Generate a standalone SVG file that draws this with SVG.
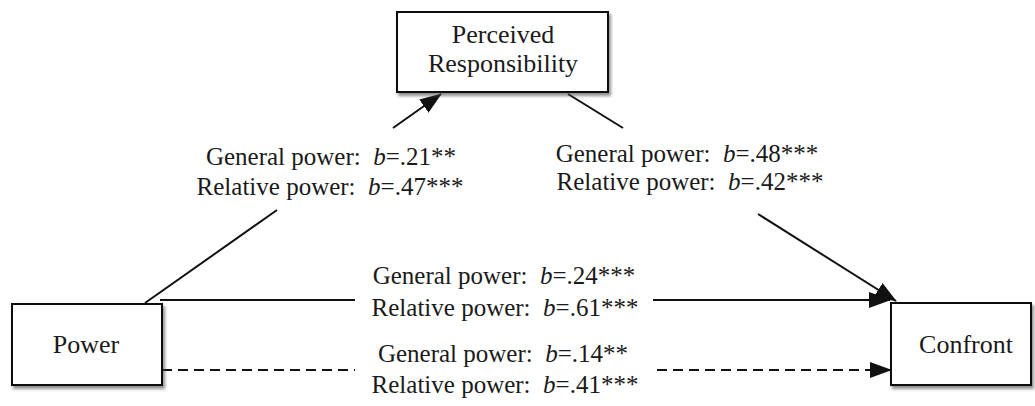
<svg xmlns="http://www.w3.org/2000/svg" width="1035" height="406" viewBox="0 0 1035 406">
  <style>
    .box { fill: #ffffff; stroke: #111111; stroke-width: 2; filter: url(#shadow); }
    .t { font-family: "Liberation Serif", "Times New Roman", serif; font-size: 26px; fill: #1a1a1a; text-anchor: middle; }
    .lbl { font-family: "Liberation Serif", "Times New Roman", serif; font-size: 25px; fill: #1a1a1a; text-anchor: middle; }
    .b { font-style: italic; }
    .edge { fill: none; stroke: #111111; stroke-width: 2; }
    .dash { stroke-dasharray: 10 6; }
  </style>
  <defs>
    <filter id="shadow" x="-10%" y="-10%" width="130%" height="140%">
      <feDropShadow dx="2" dy="3" stdDeviation="1.6" flood-color="#444444" flood-opacity="0.6"/>
    </filter>
    <marker id="arrow" markerUnits="userSpaceOnUse" markerWidth="22" markerHeight="16" viewBox="0 0 22 16" refX="21" refY="8" orient="auto">
      <path d="M0,0 L22,8 L0,16 Z" fill="#111111"/>
    </marker>
  </defs>

  <g id="connectors">
    <path id="power-to-responsibility" class="edge" d="M145,303 L277,210 M393,128 L441,94" marker-end="url(#arrow)"/>
    <path id="responsibility-to-confront" class="edge" d="M568,94 L623,128 M758,214 L896,301" marker-end="url(#arrow)"/>
    <path id="power-to-confront-direct" class="edge" d="M160,300 H355 M653,300 H890" marker-end="url(#arrow)"/>
    <path id="power-to-confront-indirect" class="edge dash" d="M162,370 H355 M657,370 H891" marker-end="url(#arrow)"/>
  </g>

  <g id="node-responsibility">
    <rect class="box" x="397" y="12" width="211" height="80"/>
    <text class="t" x="503" y="43">Perceived</text>
    <text class="t" x="503" y="72">Responsibility</text>
  </g>

  <g id="node-power">
    <rect class="box" x="12" y="304" width="150" height="81"/>
    <text class="t" x="86" y="353">Power</text>
  </g>

  <g id="node-confront">
    <rect class="box" x="891" y="303" width="140" height="82"/>
    <text class="t" x="966" y="353">Confront</text>
  </g>

  <g id="labels">
    <text class="lbl" x="331" y="165">General power:&#160; <tspan class="b">b</tspan>=.21**</text>
    <text class="lbl" x="330" y="195">Relative power:&#160; <tspan class="b">b</tspan>=.47***</text>
    <text class="lbl" x="687" y="162">General power:&#160; <tspan class="b">b</tspan>=.48***</text>
    <text class="lbl" x="690" y="190">Relative power:&#160; <tspan class="b">b</tspan>=.42***</text>
    <text class="lbl" x="504" y="284">General power:&#160; <tspan class="b">b</tspan>=.24***</text>
    <text class="lbl" x="505" y="316">Relative power:&#160; <tspan class="b">b</tspan>=.61***</text>
    <text class="lbl" x="503" y="362">General power:&#160; <tspan class="b">b</tspan>=.14**</text>
    <text class="lbl" x="505" y="393">Relative power:&#160; <tspan class="b">b</tspan>=.41***</text>
  </g>
</svg>
